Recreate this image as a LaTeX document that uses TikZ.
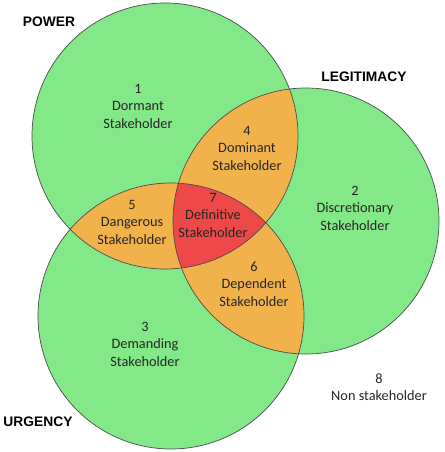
\documentclass[tikz,border=0pt]{standalone}
\usepackage{fontspec}
\setmainfont{Carlito}
\newfontfamily\headfont{Liberation Sans}
\usepackage{xcolor}
\definecolor{vgreen}{RGB}{131,232,136}
\definecolor{vorange}{RGB}{242,178,75}
\definecolor{vred}{RGB}{238,72,72}
\tikzset{
  region/.style={align=center, font=\fontsize{14.3}{17.5}\selectfont, text=black!85},
  setname/.style={font=\headfont\bfseries\fontsize{13.8}{16}\selectfont},
  rim/.style={draw=black!70, line width=0.7pt}
}
\begin{document}
\begin{tikzpicture}[x=1pt,y=-1pt]
\useasboundingbox (0,0) rectangle (444,452);

% Circle centres
\coordinate (P) at (165,136);
\coordinate (L) at (306,221);
\coordinate (U) at (171,316);
\def\rad{133}

% Single sets
\fill[vgreen] (P) circle (\rad);
\fill[vgreen] (L) circle (\rad);
\fill[vgreen] (U) circle (\rad);

% Pairwise overlaps
\begin{scope}
  \clip (P) circle (\rad);
  \fill[vorange] (L) circle (\rad);
  \fill[vorange] (U) circle (\rad);
\end{scope}
\begin{scope}
  \clip (L) circle (\rad);
  \fill[vorange] (U) circle (\rad);
\end{scope}

% Triple overlap
\begin{scope}
  \clip (P) circle (\rad);
  \clip (L) circle (\rad);
  \fill[vred] (U) circle (\rad);
\end{scope}

% Outlines
\draw[rim] (P) circle (\rad);
\draw[rim] (L) circle (\rad);
\draw[rim] (U) circle (\rad);

% Set names
\node[setname] (power) at (49,22) {POWER};
\node[setname] (legit) at (364,77) {LEGITIMACY};
\node[setname] (urgency) at (38,422) {URGENCY};

% Regions
\node[region] (dormant) at (138,106) {1\\Dormant\\Stakeholder};
\node[region] (discret) at (355,208) {2\\Discretionary\\Stakeholder};
\node[region] (demand) at (145,344) {3\\Demanding\\Stakeholder};
\node[region] (dominant) at (247,148) {4\\Dominant\\Stakeholder};
\node[region] (danger) at (132,222) {5\\Dangerous\\Stakeholder};
\node[region] (depend) at (254,284) {6\\Dependent\\Stakeholder};
\node[region] (definit) at (213,215) {7\\Definitive\\Stakeholder};
\node[region] (nonstake) at (379,387) {8\\Non stakeholder};

\end{tikzpicture}
\end{document}
